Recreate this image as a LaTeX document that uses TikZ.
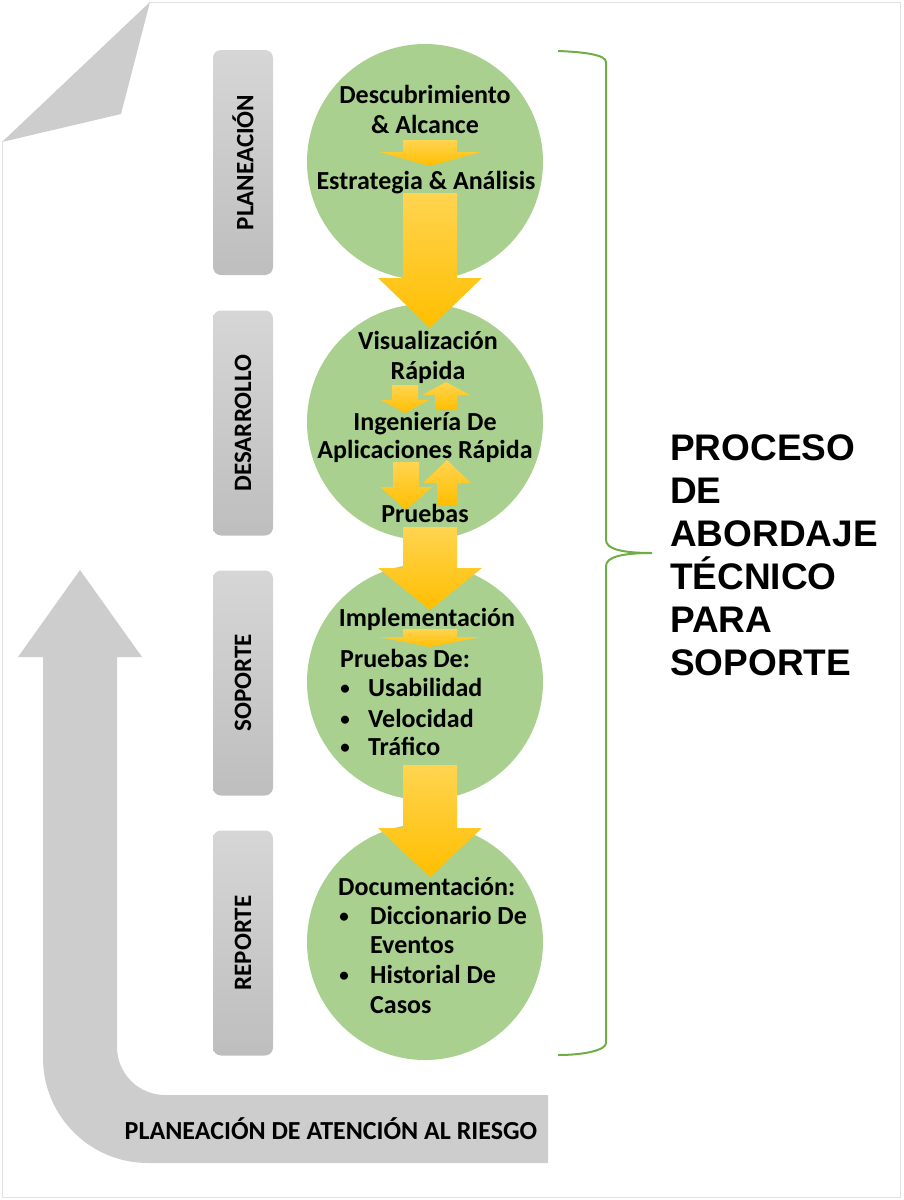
\documentclass[tikz,border=0pt]{standalone}
\usepackage{fontspec}
\setmainfont{Carlito}
\newfontfamily\arialfont{Liberation Sans}
\definecolor{cgreen}{RGB}{169,208,142}
\definecolor{bgreen}{RGB}{112,173,71}
\definecolor{ytop}{RGB}{255,212,80}
\definecolor{ybot}{RGB}{255,190,0}
\definecolor{gtop}{RGB}{214,214,214}
\definecolor{gbot}{RGB}{190,190,190}
\definecolor{garrow}{RGB}{205,205,205}
\definecolor{pageline}{RGB}{225,225,225}
\newcommand\yarrow[6]{\path[yarr] ({#1-#3},#2) -- ({#1+#3},#2) -- ({#1+#3},#4) -- ({#1+#5},#4) -- (#1,#6) -- ({#1-#5},#4) -- ({#1-#3},#4) -- cycle;}
\begin{document}
\begin{tikzpicture}[x=1pt,y=-1pt,
  circ/.style={circle, minimum size=236pt, inner sep=0pt, fill=cgreen},
  lbl/.style={rounded corners=8pt, minimum width=60pt, minimum height=225pt, inner sep=0pt,
    top color=gtop, bottom color=gbot, font=\bfseries\fontsize{25}{29}\selectfont},
  yarr/.style={top color=ytop, bottom color=ybot},
  ctext/.style={font=\bfseries\fontsize{26}{30}\selectfont, inner sep=0pt},
  bul/.style={font=\bfseries\fontsize{19}{22}\selectfont, inner sep=0pt, anchor=base},
  rtext/.style={font=\arialfont\bfseries\fontsize{37}{43}\selectfont, inner sep=0pt, anchor=base west},
  brace/.style={draw=bgreen, line width=2pt}]
\useasboundingbox (0,0) rectangle (904,1200);
% page outline and folded corner
\draw[pageline, line width=1pt] (150,2) -- (900,2) -- (900,1197) -- (2,1197) -- (2,142);
\fill[garrow] (150,2) -- (121,114) -- (2,142) -- cycle;
% big grey return arrow
\fill[garrow] (43,657) -- (43,1058) arc[start angle=180, end angle=270, radius=105pt]
  -- (548,1163) -- (548,1095) -- (165,1095) arc[start angle=270, end angle=180, radius=48pt]
  -- (117,657) -- (142,657) -- (80,570) -- (18,657) -- cycle;
\node[font=\bfseries\fontsize{26}{30}\selectfont, anchor=base, inner sep=0pt] (risk) at (331,1139) {PLANEACIÓN DE ATENCIÓN AL RIESGO};
% phase labels
\node[lbl] (l1) at (243,162.5) {\rotatebox{90}{PLANEACIÓN}};
\node[lbl] (l2) at (243,423) {\rotatebox{90}{DESARROLLO}};
\node[lbl] (l3) at (243,683) {\rotatebox{90}{SOPORTE}};
\node[lbl] (l4) at (243,943) {\rotatebox{90}{REPORTE}};
% circles
\node[circ] (c1) at (425,162) {};
\node[circ] (c2) at (425,422) {};
\node[circ] (c3) at (425,682) {};
\node[circ] (c4) at (425,942) {};
% yellow arrows
\yarrow{430}{140}{27}{152}{51}{166}
\yarrow{430}{193}{27}{278}{52}{328}
\yarrow{405}{385}{13}{400}{24}{413}
\yarrow{446}{410}{11}{395}{24}{382}
\yarrow{406}{462}{13}{487}{26}{510}
\yarrow{447}{505}{10}{483}{24}{460}
\yarrow{430}{527}{27}{568}{52}{610}
\yarrow{430}{629}{27}{637}{51}{647}
\yarrow{430}{765}{27}{828}{52}{877}
% circle texts
\node[ctext, anchor=base] (d1) at (425,103) {Descubrimiento};
\node[ctext, anchor=base] (d2) at (425,133) {\& Alcance};
\node[ctext, anchor=base] (d3) at (426,189) {Estrategia \& Análisis};
\node[ctext, anchor=base] (v1) at (428,349) {Visualización};
\node[ctext, anchor=base] (v2) at (428,379) {Rápida};
\node[ctext, anchor=base] (v3) at (425,430) {Ingeniería De};
\node[ctext, anchor=base] (v4) at (425,458) {Aplicaciones Rápida};
\node[ctext, anchor=base] (v5) at (425,522) {Pruebas};
\node[ctext, anchor=base] (s1) at (427,626) {Implementación};
\node[ctext, anchor=base west] (s2) at (340,667) {Pruebas De:};
\node[bul] (s3b) at (345,694) {\textbullet};
\node[ctext, anchor=base west] (s3) at (368,696) {Usabilidad};
\node[bul] (s4b) at (345,725) {\textbullet};
\node[ctext, anchor=base west] (s4) at (368,727) {Velocidad};
\node[bul] (s5b) at (345,753) {\textbullet};
\node[ctext, anchor=base west] (s5) at (368,755) {Tráfico};
\node[ctext, anchor=base west] (r1) at (338,895) {Documentación:};
\node[bul] (r2b) at (344,922) {\textbullet};
\node[ctext, anchor=base west] (r2) at (370,924) {Diccionario De};
\node[ctext, anchor=base west] (r3) at (370,953) {Eventos};
\node[bul] (r4b) at (344,981) {\textbullet};
\node[ctext, anchor=base west] (r4) at (370,983) {Historial De};
\node[ctext, anchor=base west] (r5) at (370,1013) {Casos};
% brace
\draw[brace] (558,51) .. controls (585,52) and (606,55) .. (606,62) -- (606,540)
  .. controls (606,549) and (622,553) .. (652,553)
  .. controls (622,553) and (606,557) .. (606,566) -- (606,1043)
  .. controls (606,1050) and (585,1055) .. (558,1055);
% title text
\node[rtext] (t1) at (670,460) {PROCESO};
\node[rtext] (t2) at (670,503) {DE};
\node[rtext] (t3) at (670,546) {ABORDAJE};
\node[rtext] (t4) at (670,589) {TÉCNICO};
\node[rtext] (t5) at (670,632) {PARA};
\node[rtext] (t6) at (670,675) {SOPORTE};
\end{tikzpicture}
\end{document}
